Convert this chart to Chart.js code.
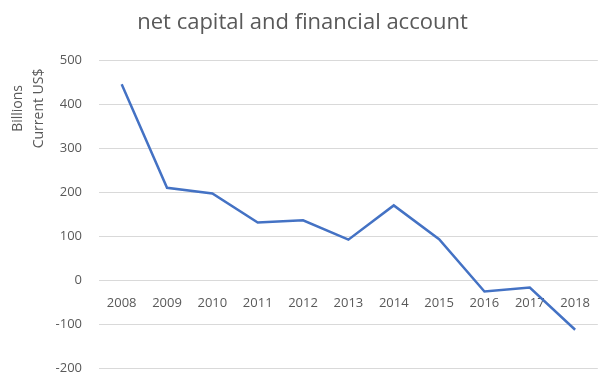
<!DOCTYPE html>
<html>
<head>
<meta charset="utf-8">
<script src="https://cdn.jsdelivr.net/npm/chart.js@4"></script>
<style>
  html, body { margin: 0; padding: 0; background: #fff; }
  #wrap { width: 605px; height: 383px; }
</style>
</head>
<body>
<div id="wrap"><canvas id="c"></canvas></div>
<script>
const years = ['2008', '2009', '2010', '2011', '2012', '2013', '2014', '2015', '2016', '2017', '2018'];
const netCapital = [446, 210, 197, 131, 136, 92, 170, 93, -26, -17, -113];
const yTitleLines = ['Billions', 'Current US$'];

const grey = '#595959';
const font = 'Open Sans, Noto Sans, sans-serif';

// axis title drawn by hand: Excel places it in the upper part of the axis
const yTitlePlugin = {
    id: 'yTitle',
    afterDraw(chart) {
        const ctx = chart.ctx;
        const area = chart.chartArea;
        ctx.save();
        ctx.fillStyle = grey;
        ctx.font = '14px ' + font;
        ctx.textAlign = 'center';
        ctx.textBaseline = 'middle';
        yTitleLines.forEach((line, i) => {
            ctx.save();
            ctx.translate(18 + i * 21, area.top + 48);
            ctx.rotate(-Math.PI / 2);
            ctx.fillText(line, 0, 0);
            ctx.restore();
        });
        ctx.restore();
    }
};

new Chart(document.getElementById('c').getContext('2d'), {
    type: 'line',
    data: {
        labels: years,
        datasets: [{
            label: 'net capital and financial account',
            data: netCapital,
            borderColor: '#4472C4',
            borderWidth: 2.5,
            pointRadius: 0,
            tension: 0,
            fill: false
        }]
    },
    options: {
        responsive: true,
        maintainAspectRatio: false,
        animation: false,
        layout: { padding: { top: 10, right: 0, bottom: 15, left: 0 } },
        plugins: {
            legend: { display: false },
            tooltip: { enabled: false },
            title: {
                display: true,
                text: 'net capital and financial account',
                color: grey,
                font: { family: font, size: 22, weight: 'normal' },
                padding: { top: 0, bottom: 24 }
            }
        },
        scales: {
            x: {
                position: { y: 0 },
                offset: true,
                afterFit: (scale) => {
                    scale.height = 0;
                    scale.paddingTop = 0;
                    scale.paddingBottom = 0;
                },
                grid: { display: false, drawTicks: false },
                border: { display: false },
                ticks: { color: grey, font: { family: font, size: 13 }, padding: 15, maxRotation: 0 }
            },
            y: {
                min: -200,
                max: 500,
                afterFit: (scale) => {
                    scale.width = 99;
                    scale.paddingBottom = 0;
                },
                ticks: { stepSize: 100, color: grey, font: { family: font, size: 13 }, padding: 17 },
                grid: { color: '#d9d9d9', drawTicks: false },
                border: { display: false }
            }
        }
    },
    plugins: [yTitlePlugin]
});
</script>
</body>
</html>
